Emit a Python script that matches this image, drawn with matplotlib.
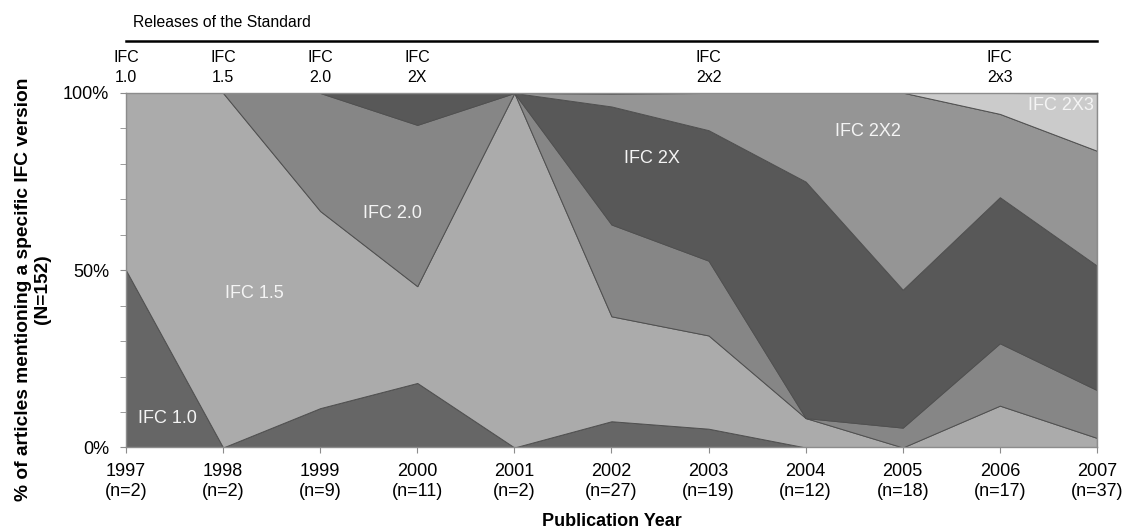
"""
Share of articles mentioning each IFC version per publication year,
drawn as a 100% stacked area chart.
"""

import matplotlib
matplotlib.use("Agg")
import matplotlib.pyplot as plt
from matplotlib.ticker import MultipleLocator, FixedLocator

plt.rcParams['font.family'] = ['Liberation Sans', 'DejaVu Sans']

# Data (percent of articles per year).
years = [1997, 1998, 1999, 2000, 2001, 2002, 2003, 2004, 2005, 2006, 2007]
n_articles = [2, 2, 9, 11, 2, 27, 19, 12, 18, 17, 37]
ifc_10 = [50.0, 0, 11.1, 18.2, 0, 7.4, 5.3, 0, 0, 0, 0]
ifc_15 = [50.0, 100.0, 55.6, 27.3, 100.0, 29.6, 26.3, 8.3, 0, 11.8, 2.7]
ifc_20 = [0, 0, 33.3, 45.5, 0, 25.9, 21.1, 0, 5.6, 17.6, 13.5]
ifc_2x = [0, 0, 0, 9.1, 0, 33.3, 36.8, 66.7, 38.9, 41.2, 35.1]
ifc_2x2 = [0, 0, 0, 0, 0, 3.7, 10.5, 25.0, 55.6, 23.5, 32.4]
ifc_2x3 = [0, 0, 0, 0, 0, 0, 0, 0, 0, 5.9, 16.2]

layer_names = ['IFC 1.0', 'IFC 1.5', 'IFC 2.0', 'IFC 2X', 'IFC 2X2', 'IFC 2X3']
layer_colors = ['#666666', '#ababab', '#868686', '#585858', '#959595', '#cbcbcb']

# Releases of the standard shown above the plot.
release_years = [1997, 1998, 1999, 2000, 2003, 2006]
release_labels = ['IFC\n1.0', 'IFC\n1.5', 'IFC\n2.0', 'IFC\n2X', 'IFC\n2x2', 'IFC\n2x3']

# Where the layer names sit inside the areas (year, percent).
label_x = [1997.43, 1998.32, 1999.74, 2002.42, 2004.64, 2006.97]
label_y = [8.3, 43.5, 66.0, 81.5, 89.0, 96.5]
label_ha = ['center', 'center', 'center', 'center', 'center', 'right']

fig = plt.figure(figsize=(11.29, 5.28), dpi=100)
ax = fig.add_axes([0.1116, 0.1525, 0.86, 0.6714])

ax.stackplot(years, ifc_10, ifc_15, ifc_20, ifc_2x, ifc_2x2, ifc_2x3,
             colors=layer_colors, edgecolor='#505050', linewidth=0.7)

ax.set_xlim(1997, 2007)
ax.set_ylim(0, 100)

for name, x, y, ha in zip(layer_names, label_x, label_y, label_ha):
    ax.text(x, y, name, color='#f4f4f4', fontsize=13, ha=ha, va='center')

# Axes styling
for side in ['left', 'bottom', 'top', 'right']:
    ax.spines[side].set_color('#8c8c8c')
    ax.spines[side].set_linewidth(1.0)

ax.xaxis.set_major_locator(FixedLocator(years))
ax.set_xticklabels(['%d\n(n=%d)' % (y, n) for y, n in zip(years, n_articles)],
                   fontsize=13, linespacing=1.25)
ax.yaxis.set_major_locator(FixedLocator([0, 50, 100]))
ax.yaxis.set_minor_locator(MultipleLocator(10))
ax.set_yticklabels(['0%', '50%', '100%'], fontsize=13)
ax.tick_params(axis='x', length=4, color='#8c8c8c', pad=7)
ax.tick_params(axis='y', which='both', length=4, color='#8c8c8c', pad=8)

ax.set_xlabel('Publication Year', fontsize=13, fontweight='bold', labelpad=9)
fig.text(0.029, 0.4527, '% of articles mentioning a specific IFC version\n(N=152)',
         rotation=90, ha='center', va='center', fontsize=13.8,
         fontweight='bold', linespacing=1.15, multialignment='center')

# Release timeline above the plot
ax.plot([0, 1], [1.146, 1.146], transform=ax.transAxes, color='black',
        linewidth=1.8, clip_on=False)
ax.text(0.007, 1.20, 'Releases of the Standard', transform=ax.transAxes,
        fontsize=11.3, ha='left', va='center')
for x, lab in zip(release_years, release_labels):
    ax.text(x, 107.2, lab, fontsize=11.5, ha='center', va='center',
            linespacing=1.38, clip_on=False)

fig.savefig('out.png', dpi=100)
